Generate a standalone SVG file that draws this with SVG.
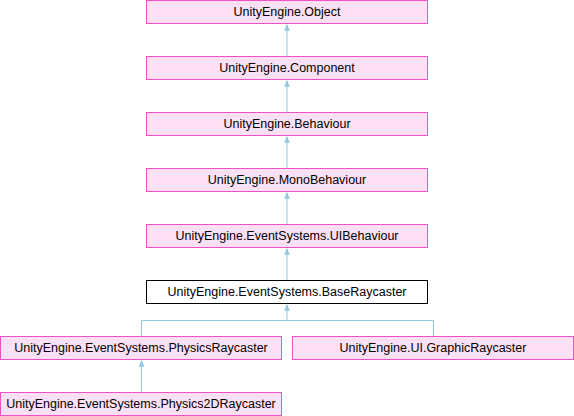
<svg xmlns="http://www.w3.org/2000/svg" width="574" height="416" viewBox="0 0 574 416">
<style>
.n rect{fill:#FEE0F5;stroke:#F050C8;stroke-width:1}
.n.cur rect{fill:#FFFFFF;stroke:#000000}
.n text{font-family:"Liberation Sans",Arial,sans-serif;font-size:12.5px;fill:#000;text-anchor:middle}
.e{fill:none;stroke:#93C6E2;stroke-width:1}
</style>
<defs>
<marker id="ah" viewBox="0 0 10 10" refX="10" refY="5" markerWidth="6" markerHeight="6" orient="auto" markerUnits="userSpaceOnUse">
<path d="M0,1 L10,5 L0,9 Z" fill="#93C6E2" stroke="#93C6E2"/>
</marker>
</defs>
<rect width="574" height="416" fill="#FFFFFF"/>
<g id="edges">
<path class="e" d="M287,56 L287,24.5" marker-end="url(#ah)"/>
<path class="e" d="M287,112 L287,80.5" marker-end="url(#ah)"/>
<path class="e" d="M287,168 L287,136.5" marker-end="url(#ah)"/>
<path class="e" d="M287,224 L287,192.5" marker-end="url(#ah)"/>
<path class="e" d="M287,280 L287,248.5" marker-end="url(#ah)"/>
<path class="e" d="M141.5,336 L141.5,320.5 L287,320.5 L287,304.5" marker-end="url(#ah)"/>
<path class="e" d="M433.5,336 L433.5,320.5 L287,320.5"/>
<path class="e" d="M141.5,392 L141.5,360.5" marker-end="url(#ah)"/>
</g>
<g id="n_object" class="n"><rect x="146.5" y="0.5" width="281" height="23"/><text x="287" y="16">UnityEngine.Object</text></g>
<g id="n_component" class="n"><rect x="146.5" y="56.5" width="281" height="23"/><text x="287" y="72">UnityEngine.Component</text></g>
<g id="n_behaviour" class="n"><rect x="146.5" y="112.5" width="281" height="23"/><text x="287" y="128">UnityEngine.Behaviour</text></g>
<g id="n_monobehaviour" class="n"><rect x="146.5" y="168.5" width="281" height="23"/><text x="287" y="184">UnityEngine.MonoBehaviour</text></g>
<g id="n_uibehaviour" class="n"><rect x="146.5" y="224.5" width="281" height="23"/><text x="287" y="240">UnityEngine.EventSystems.UIBehaviour</text></g>
<g id="n_baseraycaster" class="n cur"><rect x="146.5" y="280.5" width="281" height="23"/><text x="287" y="296">UnityEngine.EventSystems.BaseRaycaster</text></g>
<g id="n_physicsraycaster" class="n"><rect x="0.5" y="336.5" width="281" height="23"/><text x="141" y="352">UnityEngine.EventSystems.PhysicsRaycaster</text></g>
<g id="n_graphicraycaster" class="n"><rect x="292.5" y="336.5" width="281" height="23"/><text x="433" y="352">UnityEngine.UI.GraphicRaycaster</text></g>
<g id="n_physics2draycaster" class="n"><rect x="0.5" y="392.5" width="281" height="23"/><text x="141" y="408">UnityEngine.EventSystems.Physics2DRaycaster</text></g>
</svg>
